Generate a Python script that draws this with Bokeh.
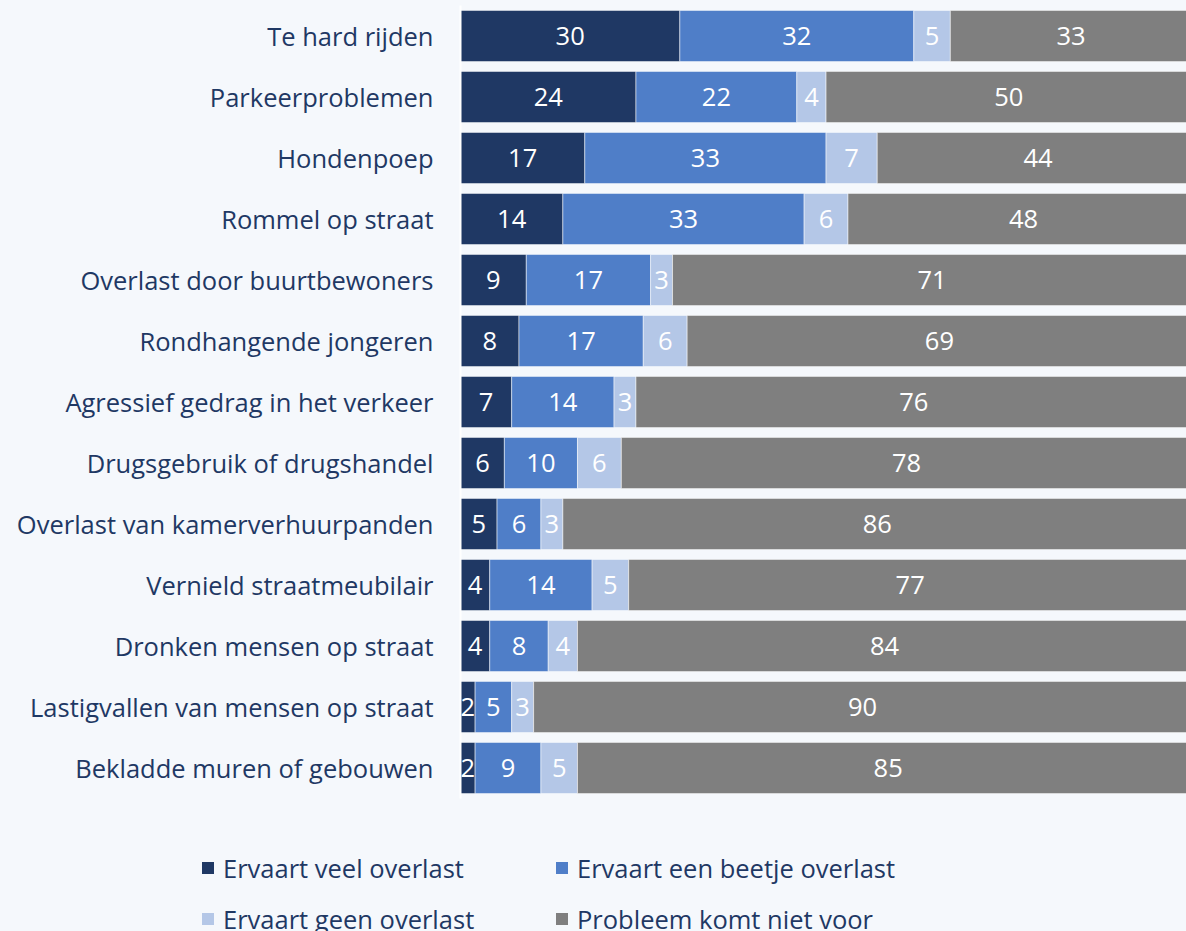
from bokeh.plotting import figure
from bokeh.layouts import column
from bokeh.models import ColumnDataSource, FactorRange, Legend, LegendItem
from bokeh.core.properties import value
from bokeh.embed import file_html
from bokeh.resources import INLINE

categories = [
    "Te hard rijden",
    "Parkeerproblemen",
    "Hondenpoep",
    "Rommel op straat",
    "Overlast door buurtbewoners",
    "Rondhangende jongeren",
    "Agressief gedrag in het verkeer",
    "Drugsgebruik of drugshandel",
    "Overlast van kamerverhuurpanden",
    "Vernield straatmeubilair",
    "Dronken mensen op straat",
    "Lastigvallen van mensen op straat",
    "Bekladde muren of gebouwen",
]
veel = [30, 24, 17, 14, 9, 8, 7, 6, 5, 4, 4, 2, 2]
beetje = [32, 22, 33, 33, 17, 17, 14, 10, 6, 14, 8, 5, 9]
geen = [5, 4, 7, 6, 3, 6, 3, 6, 3, 5, 4, 3, 5]
niet = [33, 50, 44, 48, 71, 69, 76, 78, 86, 77, 84, 90, 85]

series_keys = ["veel", "beetje", "geen", "niet"]
series_names = ["Ervaart veel overlast", "Ervaart een beetje overlast",
                "Ervaart geen overlast", "Probleem komt niet voor"]
colors = ["#1F3864", "#4F7EC8", "#B4C7E7", "#7F7F7F"]

BG = "#F5F8FC"
NAVY = "#1F3864"
FONT = "Open Sans"
FS = "25.5px"

data = dict(cat=categories, veel=veel, beetje=beetje, geen=geen, niet=niet)
source = ColumnDataSource(data)

p = figure(
    y_range=FactorRange(*reversed(categories)),
    x_range=(0, 99.3),
    width=1186, height=810,
    output_backend="svg", toolbar_location=None,
    min_border_left=460, min_border_right=0, min_border_top=5, min_border_bottom=12,
    background_fill_color=BG, border_fill_color=BG,
)
p.outline_line_color = None
p.xgrid.grid_line_color = None
p.ygrid.grid_line_color = None
p.xaxis.visible = False

renderers = p.hbar_stack(series_keys, y="cat", height=0.84, color=colors,
                         source=source, line_color="white", line_width=1, line_alpha=0.5)

# labels at segment centres
for i, key in enumerate(series_keys):
    mids = []
    for j in range(len(categories)):
        left = sum(data[k][j] for k in series_keys[:i])
        mids.append(left + data[key][j] / 2)
    lsrc = ColumnDataSource(dict(x=mids, y=categories, t=[str(v) for v in data[key]]))
    p.text(x="x", y="y", text="t", source=lsrc, text_align="center", text_baseline="middle",
           text_color="white", text_font=value(FONT), text_font_size=FS)

yax = p.yaxis[0]
yax.axis_line_color = "white"
yax.axis_line_width = 2
yax.major_tick_line_color = None
yax.minor_tick_line_color = None
yax.major_tick_out = 0
yax.major_label_standoff = 27
yax.major_label_text_font = FONT
yax.major_label_text_font_size = FS
yax.major_label_text_color = NAVY

# legend figure below the chart
pl = figure(
    y_range=FactorRange(*reversed(categories)),
    x_range=(0, 99.3),
    width=1186, height=121,
    output_backend="svg", toolbar_location=None,
    min_border_left=0, min_border_right=0, min_border_top=0, min_border_bottom=0,
    background_fill_color=BG, border_fill_color=BG,
)
pl.frame_align = False
pl.outline_line_color = None
pl.axis.visible = False
pl.grid.visible = False
lrend = pl.hbar_stack(series_keys, y="cat", height=0.84, color=colors,
                      source=source, line_color=None, visible=False)

# column-major fill: row 1 = veel, beetje ; row 2 = geen, niet
order = [0, 2, 1, 3]
legend = Legend(
    items=[LegendItem(label=series_names[i], renderers=[lrend[i]]) for i in order],
    ncols=2, location=(200, -8),
    glyph_width=15, glyph_height=15, label_standoff=8,
    label_width=321, label_height=41, spacing=10, padding=0, margin=0,
    label_text_font=FONT, label_text_font_size=FS, label_text_color=NAVY,
    border_line_color=None, background_fill_alpha=0,
)
pl.add_layout(legend, "center")

layout = column(p, pl, spacing=0)
layout.styles = {"background-color": BG}
open("out.html", "w").write(file_html(layout, INLINE))
